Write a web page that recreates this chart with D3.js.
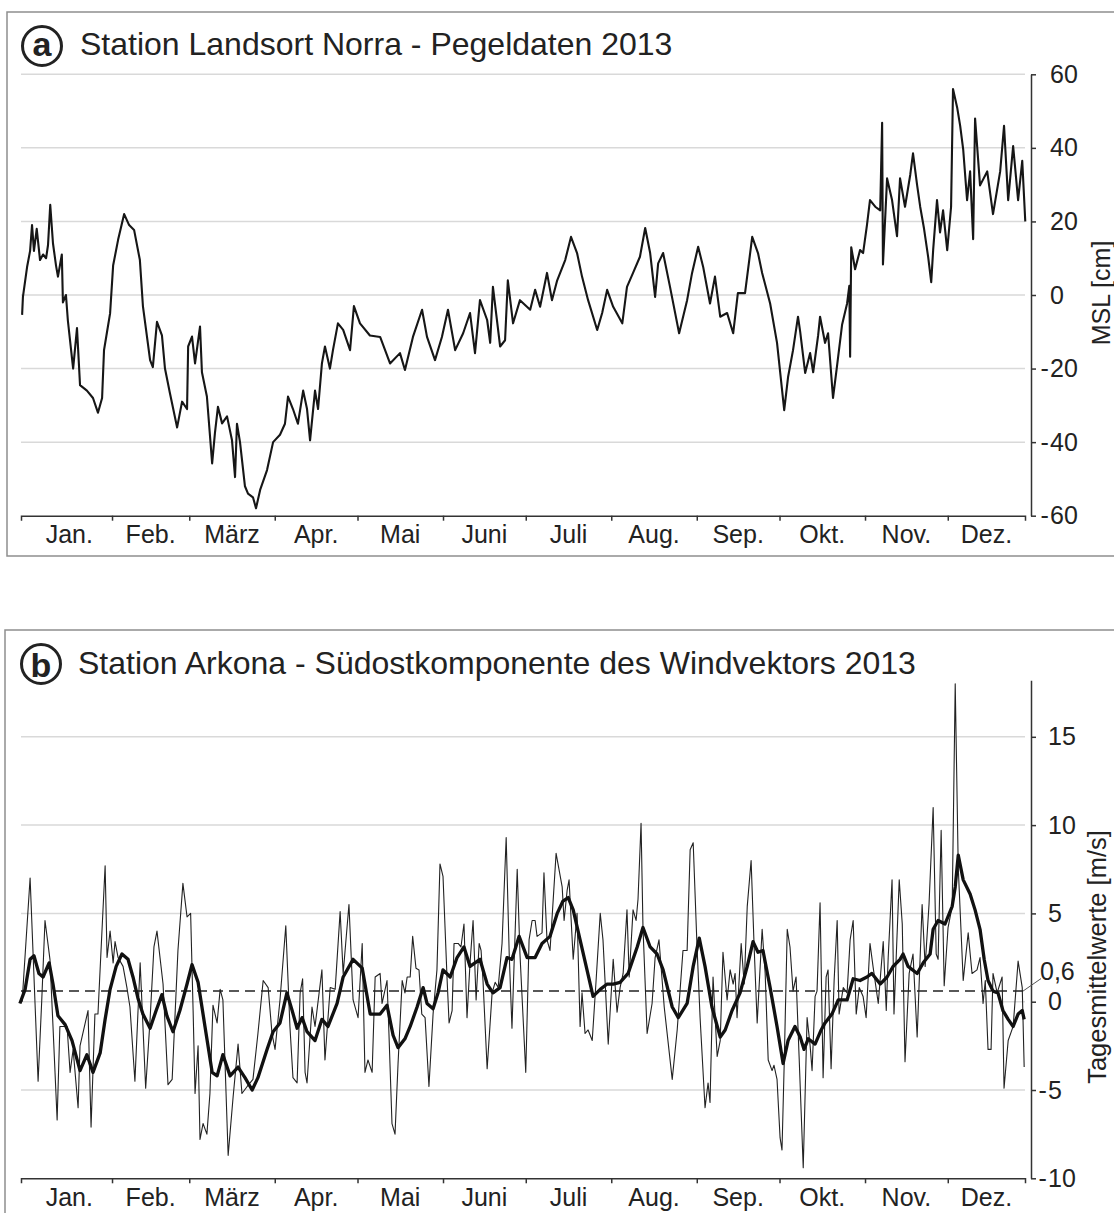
<!DOCTYPE html>
<html><head><meta charset="utf-8">
<script src="https://cdn.jsdelivr.net/npm/d3@7"></script>
<style>html,body{margin:0;padding:0;background:#fff;} svg{display:block;}</style>
</head><body>
<svg id="chart" width="1114" height="1213"></svg>
<script>
// ---------- DATA ----------
const monthNames = ["Jan.","Feb.","März","Apr.","Mai","Juni","Juli","Aug.","Sep.","Okt.","Nov.","Dez."];
const seaLevelTicks = [-60,-40,-20,0,20,40,60];
const windTicks = [-10,-5,0,5,10,15];
const windReference = 0.6;
const windReferenceLabel = "0,6";
const titleA = "Station Landsort Norra - Pegeldaten 2013";
const titleB = "Station Arkona - Südostkomponente des Windvektors 2013";

// Landsort Norra sea level [cm]: [day of year, value]
const seaLevel = [
[-1.6,-5.4],[-1.3,-0.5],[0.2,7.6],[1.3,12],[2.0,19],[2.7,12],[3.7,18],[4.9,9.5],[6.0,11],[7.1,10],
[7.8,13.6],[8.6,24.5],[9.6,14],[10.7,8],[11.4,5],[12.8,11],[13.2,-2],[14.3,0],[15.0,-7],[16.9,-20],
[18.3,-9],[19.4,-24.5],[21.9,-26],[24.1,-28],[25.9,-32],[27.4,-28],[28.1,-15],[29.2,-10],[30.3,-5],[31.4,8],
[33.2,15],[35.4,22],[37.2,19],[39.0,17.7],[41.1,9.5],[42.2,-3],[44.8,-17.7],[45.8,-19.6],[47.3,-7.3],[49.1,-11],
[50.2,-20],[52.0,-26.7],[54.6,-36],[56.4,-29],[58.2,-31],[58.6,-14],[60.0,-11.3],[61.1,-18.6],[62.9,-8.6],[63.6,-21],
[65.4,-27.6],[67.3,-45.8],[68.3,-37.6],[69.4,-30.4],[70.9,-34.9],[72.7,-33],[74.5,-39.5],[75.6,-49.5],[76.3,-35],[77.4,-40],
[79.2,-52],[80.3,-54],[82.1,-55],[83.2,-58],[84.7,-53],[87.2,-47.6],[89.4,-40],[91.9,-38],[93.7,-35],[94.8,-27.6],
[96.6,-31],[98.4,-35],[100.3,-26],[101.7,-31],[102.8,-39.5],[104.6,-26],[105.7,-31],[107.1,-18.6],[108.2,-14],[110.0,-20],
[111.1,-15],[112.9,-7.7],[114.8,-9.5],[117.3,-15],[118.7,-3],[120.9,-7.7],[124.5,-11],[128.2,-11.4],[131.8,-18.6],[135.4,-15.8],
[137.2,-20.4],[140.1,-11.4],[143.4,-4],[145.2,-11.4],[148.1,-17.7],[150.6,-11.4],[152.8,-4],[155.4,-15],[158.3,-10.4],[160.8,-4.9],
[162.6,-15.8],[164.4,-1.4],[167.0,-6.8],[168.1,-13],[169.1,2.2],[171.7,-14],[173.5,-12.3],[174.5,4],[176.4,-7.7],[178.9,-1.4],
[182.6,-4],[184.4,1.4],[186.2,-3.2],[188.7,6],[190.5,-1.4],[192.4,4],[195.3,9.5],[197.4,15.8],[199.6,11.4],[201.4,5],
[203.6,-1.4],[206.9,-9.5],[208.7,-4.9],[210.5,1.4],[212.7,-3.2],[216.0,-7.7],[217.7,2.2],[219.9,6],[222.4,10.4],[224.3,18.2],
[226.1,11.4],[227.9,-0.5],[229.0,8.6],[230.8,11.4],[233.3,2.2],[236.6,-10.4],[239.5,-1.4],[241.3,6],[243.5,13.1],[245.3,7.7],
[247.8,-2.3],[249.6,5],[251.5,-5.9],[254.0,-4.9],[256.2,-10.4],[257.9,0.5],[260.5,0.5],[263.1,15.8],[265.2,11.4],[266.7,6],
[269.6,-2.3],[272.1,-13],[274.7,-31.3],[276.1,-22.3],[277.9,-15],[279.7,-5.9],[280.5,-10],[282.3,-21.2],[284.1,-15.8],[285.2,-21],
[287.0,-11],[287.7,-5.9],[289.5,-13],[290.6,-10.4],[292.4,-28],[293.9,-19],[295.7,-8],[297.5,-2.3],[298.3,2.5],[298.6,-16.8],
[299.0,13],[300.4,7],[302.2,12.2],[303.3,11.4],[304.7,19],[305.8,25.8],[307.7,24],[309.5,23],[310.2,46.8],[310.5,8.3],
[312.0,31.7],[313.8,25.8],[315.6,16],[316.7,31.7],[318.5,24],[320.4,32.7],[321.4,38.5],[322.9,29.8],[324.0,24],[325.4,18],
[326.9,10.3],[328.0,3.5],[328.7,12.2],[330.1,25.8],[331.2,17],[332.3,23],[333.8,12.2],[335.2,24],[335.9,56],[337.4,51],
[338.5,46],[339.6,39.5],[341.0,25.8],[342.1,33.6],[343.2,15.2],[343.9,48],[345.7,29.8],[348.3,33.6],[350.4,22],[353.0,33.6],
[354.4,46],[355.9,25.8],[357.7,40.5],[359.5,25.8],[361.0,36.5],[362.1,20]
];

// Arkona south-east wind component, daily means [m/s]: [day of year, value]
const windDaily = [
[-1.6,0],[1.3,7.0],[4.2,-4.5],[5.5,0],[6.7,4.6],[8.5,2.4],[9.6,-1.4],[11.1,-6.7],[12.1,-1.4],[14.7,-1.4],
[15.8,-4],[16.9,-2.7],[18.7,-6],[19.4,-2.5],[22.3,-0.5],[23.4,-7.1],[24.8,-0.7],[25.9,-0.7],[28.5,7.7],[29.2,2.5],
[30.3,4],[31.4,2.2],[32.1,3.4],[33.2,2.5],[35.0,2],[36.4,0.8],[37.5,-0.3],[39.3,-4.5],[41.2,2.2],[43.2,-4.9],
[44.8,-1],[46.2,3.1],[47.3,4],[49.5,1],[51.3,-4.7],[52.8,-4.4],[54.9,2.9],[56.7,6.7],[58.2,4.8],[59.5,5],
[60.4,-0.5],[61.1,-5.2],[62.2,-2.5],[62.9,-7.8],[64.0,-6.9],[65.4,-7.5],[66.5,-5.2],[67.6,-0.2],[69.1,-1.2],[70.2,0.7],
[71.2,0.1],[73.1,-8.7],[74.9,-5.4],[76.7,-2.4],[78.1,-5.2],[80.0,-4.8],[82.1,-4.4],[83.9,-1.8],[85.8,1.2],[87.6,0.8],
[89.0,-1.8],[90.1,-2.7],[91.9,0.1],[94.0,4.3],[95.5,-1.4],[96.6,-4.3],[98.1,-4.6],[99.2,0.5],[100.1,1.3],[101.0,-4],
[101.7,-4.6],[103.5,-0.3],[104.6,-1.4],[107.1,1.8],[108.2,-3.3],[110.1,0.8],[111.9,0.7],[113.7,5.1],[114.8,1.6],[116.9,5.5],
[118.4,0.1],[120.2,-0.9],[121.7,3.3],[122.7,-4],[123.8,-3.3],[125.3,-4],[126.4,1.4],[128.2,1.6],[128.9,-0.1],[130.7,1.2],
[131.4,-1.8],[132.5,-6.9],[133.6,-7.5],[134.7,-3.5],[136.2,1.2],[137.2,0.5],[138.0,1.4],[139.1,1.4],[140.0,3.7],[141.2,1.9],
[142.3,1.8],[143.3,-0.7],[144.5,-0.9],[145.9,-4.8],[147.4,-0.7],[148.8,1.8],[149.9,7.8],[151.0,7.1],[152.5,1.2],[153.2,-1.2],
[154.3,-0.5],[155.0,3.3],[156.5,3.3],[157.5,3.1],[158.6,4.4],[159.7,-0.9],[160.8,2.2],[161.9,4.6],[163.0,0.1],[164.1,3.3],
[164.8,2.9],[165.5,1.2],[167.0,-3.8],[168.8,0.5],[169.9,1.1],[171.0,0.8],[172.4,3.3],[173.9,9.3],[175.0,2.7],[176.0,-1.5],
[177.9,7.5],[178.9,2.7],[181.0,-4],[182.2,3.5],[183.3,4.6],[184.4,4.6],[185.1,3.7],[186.9,3.9],[187.6,7.3],[188.7,3.5],
[189.8,2.9],[192.0,8.4],[194.2,6.5],[194.9,4.6],[196.0,6.3],[196.7,6.9],[198.2,2.4],[199.6,5],[200.7,-1.4],[201.4,0.5],
[202.5,-1.8],[203.6,-1.6],[205.1,-2.2],[206.5,1.2],[208.0,5],[209.0,3.5],[210.9,-2.4],[212.7,2.4],[214.1,-0.6],[215.2,0.8],
[216.3,1.6],[217.7,5.2],[218.5,1.4],[219.9,5.2],[221.0,4.6],[221.7,5.8],[222.8,10.1],[223.5,4.2],[225.0,-1.8],[226.8,-0.1],
[227.9,2.5],[229.3,3.5],[231.2,-0.3],[234.1,-4.4],[235.9,-1.6],[238.0,2.9],[239.5,2.9],[240.6,8.6],[241.7,9],[243.1,3.1],
[244.2,-0.9],[246.0,-6],[247.1,-4.6],[247.8,-5.7],[248.9,1.4],[250.4,-3.1],[251.5,-2.2],[252.5,2.8],[254.0,0.1],[255.1,1.8],
[256.2,1.0],[256.9,1.6],[257.6,-0.9],[259.1,3.3],[260.2,1],[261.3,5.4],[262.7,8],[263.8,3.1],[264.9,-1.2],[266.7,4.1],
[267.8,1.6],[268.9,-3.3],[270.3,-3.9],[271.0,-3.6],[272.1,-4.4],[273.2,-7.7],[273.9,-8.4],[274.7,-3.5],[275.8,4.1],[276.8,3.1],
[277.9,0.6],[279.0,1.4],[280.1,-3.1],[281.6,-9.4],[283.0,-0.9],[284.1,-2.5],[284.8,-3.9],[285.9,0.3],[286.6,0.6],[287.7,5.6],
[288.8,-4.3],[289.9,1.4],[290.6,1.8],[291.7,-3.8],[292.8,1.2],[293.9,4.6],[294.6,-0.7],[296.1,0.8],[297.5,0.5],[298.6,3.5],
[299.7,4.6],[300.8,-0.7],[301.9,0.8],[303.3,0.3],[304.4,-0.9],[305.8,3.3],[306.9,2],[308.8,-0.1],[310.6,3.4],[311.7,-0.5],
[312.4,2.5],[313.8,6.9],[314.5,-0.7],[316.4,6.9],[317.5,4.4],[318.5,-3.4],[320.0,1.6],[321.4,2.7],[322.9,-2],[324.7,5.5],
[325.8,2],[327.2,5.5],[328.7,11],[329.8,2.7],[330.5,2.4],[331.6,9.7],[332.7,0.9],[334.1,4.2],[335.6,5.4],[336.7,18],
[337.8,7.6],[339.6,1.2],[341.4,3.9],[342.8,1.6],[344.6,1.8],[345.7,2.5],[346.8,-0.1],[347.6,1.2],[348.6,-2.7],[349.7,-2.7],
[350.4,1.6],[351.9,0.5],[353.7,1.4],[354.4,-4.9],[355.9,-2.2],[357.7,-1.4],[359.5,2.3],[361.0,0.8],[361.7,-3.7]
];

// Smoothed (running mean) wind component [m/s]: [day of year, value]
const windMean = [
[-2.4,-0.1],[-0.5,0.7],[1.3,2.4],[2.7,2.6],[4.5,1.6],[6.0,1.4],[8.2,2.2],[9.6,1],[11.4,-0.8],[14.0,-1.3],
[16.5,-2.2],[19.4,-3.9],[21.9,-3],[24.1,-4],[26.7,-2.9],[28.5,-1],[30.3,0.7],[32.5,2],[34.6,2.7],[36.8,2.4],
[38.6,1.4],[40.4,0.2],[42.2,-0.7],[44.8,-1.5],[47.0,-0.5],[49.1,0.4],[50.9,-0.8],[53.1,-1.7],[55.6,-0.5],[58.2,1],
[60.0,2.1],[62.2,1.1],[64.7,-1.4],[67.3,-4],[69.1,-4.2],[71.2,-3],[73.8,-4.2],[76.7,-3.7],[79.2,-4.3],[81.8,-5],
[83.9,-4.3],[87.2,-2.7],[89.4,-1.7],[91.9,-1.2],[94.4,0.5],[96.3,-0.5],[98.1,-1.5],[99.9,-0.9],[101.7,-1.7],[104.6,-2.2],
[107.1,-1],[109.3,-1.4],[112.6,-0.1],[114.8,1.4],[118.4,2.4],[121.7,1.9],[124.6,-0.7],[128.2,-0.7],[130.7,-0.2],[132.9,-1.9],
[134.7,-2.6],[137.2,-2.1],[139.1,-1.4],[141.6,-0.3],[143.8,0.8],[145.2,-0.1],[147.4,-0.4],[149.2,0.5],[151.0,1.8],[153.6,1.4],
[156.1,2.5],[158.6,3.1],[160.8,2],[162.6,2.2],[164.4,2.4],[167.0,1],[169.1,0.5],[171.7,0.8],[174.2,2.5],[176.0,2.4],
[178.6,3.7],[181.5,2.5],[184.4,2.5],[186.9,3.3],[189.8,3.7],[192.4,5],[194.5,5.7],[196.4,5.9],[198.2,5.2],[200.7,3.5],
[203.2,1.8],[205.4,0.3],[208.0,0.7],[210.5,1],[212.7,1],[215.2,1.1],[218.1,1.6],[221.4,3.1],[223.5,4.2],[226.1,3.1],
[228.6,2.7],[230.8,1.8],[234.1,-0.3],[236.3,-0.9],[239.5,-0.1],[241.7,2],[243.9,3.6],[246.0,2],[248.5,-0.3],[251.5,-2],
[253.3,-1.6],[255.8,-0.5],[258.7,0.5],[261.3,2],[263.4,3.4],[265.2,2.8],[267.0,2.9],[269.6,0.8],[272.1,-1.4],[274.3,-3.5],
[276.1,-2.2],[278.6,-1.4],[280.5,-2],[281.9,-2.7],[283.4,-2.1],[285.9,-2.4],[288.1,-1.6],[289.5,-1.2],[292.0,-0.7],[294.3,0.1],
[297.5,0.1],[299.7,1.3],[302.2,1.2],[304.7,1.4],[306.5,1.6],[309.5,1],[312.0,1.4],[314.2,2],[316.7,2.4],[317.8,2.7],
[319.6,2],[322.9,1.6],[325.1,2.2],[327.6,2.7],[328.7,4.1],[330.5,4.6],[333.0,4.4],[335.6,5.4],[336.7,6.5],[337.8,8.3],
[339.6,6.9],[342.1,6.1],[343.9,5.2],[345.7,4.1],[347.2,2.4],[348.6,1.2],[350.4,0.6],[352.2,0.5],[354.0,-0.5],[355.9,-1],
[357.7,-1.4],[359.5,-0.7],[361.0,-0.5],[361.7,-1]
];

// ---------- DRAWING ----------
const FONT = '"Liberation Sans", Arial, Helvetica, sans-serif';
const INK = '#222';
const AXIS = '#333';
const GRID = '#d9d9d9';
const FRAME = '#8e8e8e';

const svg = d3.select('#chart').attr('font-family', FONT);
svg.append('rect').attr('width',1114).attr('height',1213).attr('fill','#fff');

const dayToDate = d => new Date(Date.UTC(2013,0,1) + d*864e5);
const x = d3.scaleUtc().domain([dayToDate(-2), dayToDate(362)]).range([21, 1025]);
const monthStarts = d3.utcMonth.range(new Date(Date.UTC(2013,1,1)), new Date(Date.UTC(2013,11,2)));
const allMonthBounds = d3.utcMonth.range(new Date(Date.UTC(2013,0,1)), new Date(Date.UTC(2014,0,2)));

const ya = d3.scaleLinear().domain([-60,60]).range([515.7, 74.3]);
const yb = d3.scaleLinear().domain([-10,18.2]).range([1178.3, 680.3]);

function frame(x0, y0, h){
  svg.append('rect').attr('x',x0).attr('y',y0).attr('width',1200).attr('height',h)
    .attr('fill','none').attr('stroke',FRAME).attr('stroke-width',1.5);
}
function title(cx, cy, letter, tx, ty, text){
  svg.append('circle').attr('cx',cx).attr('cy',cy).attr('r',19.5)
    .attr('fill','none').attr('stroke',INK).attr('stroke-width',3);
  svg.append('text').attr('x',cx).attr('y', letter==='a' ? cy+9.5 : cy+12.5)
    .attr('text-anchor','middle').attr('font-size',34).attr('font-weight','bold')
    .attr('fill',INK).text(letter);
  svg.append('text').attr('x',tx).attr('y',ty).attr('font-size',32).attr('fill',INK).text(text);
}
function grid(y, vals){
  svg.append('g').selectAll('line').data(vals).join('line')
    .attr('x1', x.range()[0]).attr('x2', x.range()[1])
    .attr('y1', d=>y(d)).attr('y2', d=>y(d))
    .attr('stroke',GRID).attr('stroke-width',1.5);
}
function xAxis(gy, labelY){
  const g = svg.append('g').attr('transform',`translate(0,${gy})`)
    .call(d3.axisBottom(x).tickValues(monthStarts).tickSize(5).tickSizeOuter(5).tickFormat(''));
  g.select('.domain').attr('stroke',AXIS).attr('stroke-width',1.5);
  g.selectAll('.tick line').attr('stroke',AXIS).attr('stroke-width',1.5);
  const [d0, d1] = x.domain();
  const centers = monthNames.map((m,i) => {
    const a = Math.max(+d0, +allMonthBounds[i]);
    const b = Math.min(+d1, +allMonthBounds[i+1]);
    return (x(new Date(a)) + x(new Date(b))) / 2;
  });
  svg.append('g').selectAll('text').data(monthNames).join('text')
    .attr('x',(d,i)=>centers[i]).attr('y',labelY)
    .attr('text-anchor','middle').attr('font-size',25).attr('fill',INK).text(d=>d);
}
function yAxis(y, ticks, pad, label, labelX, labelY, labelSize){
  const g = svg.append('g').attr('transform','translate(1031,0)')
    .call(d3.axisRight(y).tickValues(ticks).tickSize(5).tickSizeOuter(0).tickPadding(pad)
      .tickFormat(d=>Math.abs(d)));
  g.attr('font-family',FONT).attr('font-size',25);
  g.select('.domain').attr('stroke',AXIS).attr('stroke-width',1.5);
  g.selectAll('.tick line').attr('stroke',AXIS).attr('stroke-width',1.5);
  g.selectAll('.tick text').attr('fill',INK);
  g.selectAll('.tick').each(function(d){
    if (d < 0) d3.select(this).append('text').attr('x', 5 + pad - 9.5).attr('dy','0.32em')
      .attr('fill',INK).text('-');
  });
  svg.append('text').attr('transform',`translate(${labelX},${labelY}) rotate(-90)`)
    .attr('text-anchor','middle').attr('font-size',labelSize).attr('fill',INK).text(label);
}
const lineGen = y => d3.line().x(d=>x(dayToDate(d[0]))).y(d=>y(d[1]));

// ---- Panel a ----
frame(7, 12, 544);
title(42, 46, 'a', 80, 55, titleA);
grid(ya, seaLevelTicks.filter(v=>v>-60));
svg.append('path').datum(seaLevel).attr('d', lineGen(ya))
  .attr('fill','none').attr('stroke','#161616').attr('stroke-width',2.1).attr('stroke-linejoin','round');
xAxis(ya(-60), 543);
yAxis(ya, seaLevelTicks, 14, 'MSL [cm]', 1110, 293, 25);

// ---- Panel b ----
frame(5, 630, 640);
title(41, 664, 'b', 78, 674, titleB);
grid(yb, windTicks.filter(v=>v>-10));
svg.append('line').attr('x1',x.range()[0]).attr('x2',x.range()[1])
  .attr('y1',yb(windReference)).attr('y2',yb(windReference))
  .attr('stroke',INK).attr('stroke-width',1.5).attr('stroke-dasharray','10,6');
svg.append('path').datum(windDaily).attr('d', lineGen(yb))
  .attr('fill','none').attr('stroke','#222').attr('stroke-width',1.1).attr('stroke-linejoin','round');
svg.append('path').datum(windMean).attr('d', lineGen(yb))
  .attr('fill','none').attr('stroke','#111').attr('stroke-width',3.3).attr('stroke-linejoin','round');
xAxis(yb(-10), 1206);
yAxis(yb, windTicks, 12, 'Tagesmittelwerte [m/s]', 1106, 957, 25.5);
// reference value annotation
svg.append('line').attr('x1',x.range()[1]-2).attr('y1',yb(windReference))
  .attr('x2',1041).attr('y2',yb(windReference)-12.5).attr('stroke','#555').attr('stroke-width',1);
svg.append('text').attr('x',1040).attr('y',yb(windReference)-11.5)
  .attr('font-size',25).attr('fill',INK).text(windReferenceLabel);
</script>
</body></html>
